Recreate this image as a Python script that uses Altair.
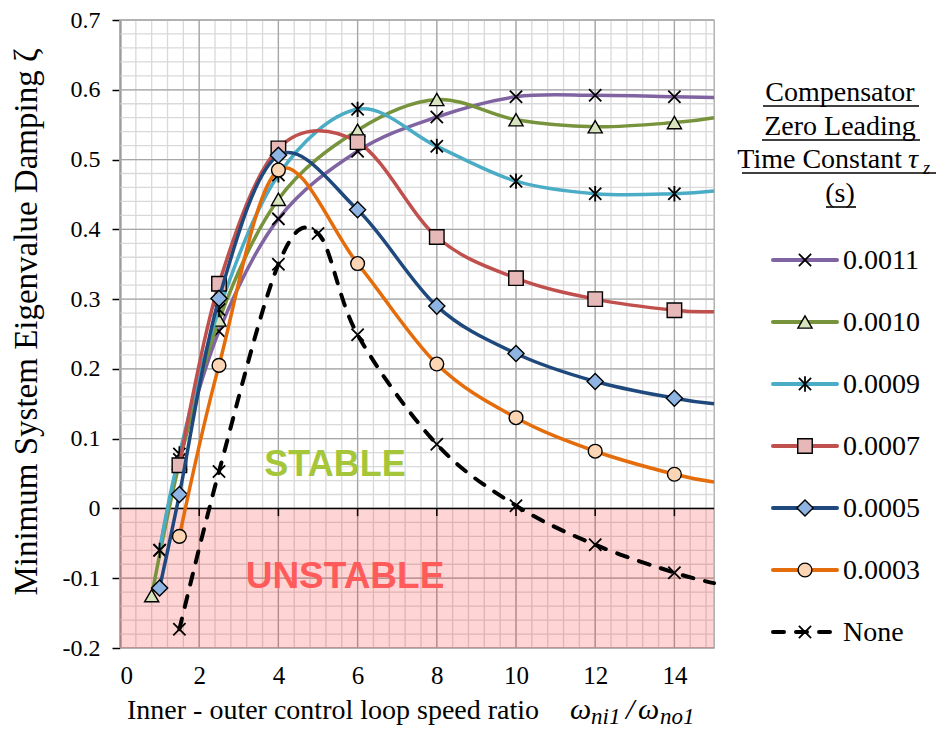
import altair as alt
import pandas as pd

# ---------------- data ----------------
series_names = ["0.0011", "0.0010", "0.0009", "0.0007", "0.0005", "0.0003", "None"]

x_0011 = [1.0, 1.5, 2.5, 4, 6, 8, 10, 12, 14, 15]
y_0011 = [-0.060, 0.070, 0.254, 0.415, 0.512, 0.561, 0.590, 0.592, 0.590, 0.589]
x_0010 = [0.8, 1.5, 2.5, 4, 6, 8, 10, 12, 14, 15]
y_0010 = [-0.125, 0.065, 0.270, 0.443, 0.542, 0.586, 0.557, 0.547, 0.553, 0.560]
x_0009 = [1.0, 1.5, 2.5, 4, 6, 8, 10, 12, 14, 15]
y_0009 = [-0.060, 0.078, 0.285, 0.478, 0.572, 0.519, 0.469, 0.451, 0.451, 0.455]
x_0007 = [1.5, 2.5, 4, 6, 8, 10, 12, 14, 15]
y_0007 = [0.062, 0.322, 0.516, 0.525, 0.389, 0.330, 0.300, 0.284, 0.282]
x_0005 = [1.0, 1.5, 2.5, 4, 6, 8, 10, 12, 14, 15]
y_0005 = [-0.114, 0.020, 0.301, 0.506, 0.428, 0.290, 0.222, 0.182, 0.158, 0.150]
x_0003 = [1.5, 2.5, 4, 6, 8, 10, 12, 14, 15]
y_0003 = [-0.040, 0.205, 0.485, 0.351, 0.207, 0.130, 0.082, 0.049, 0.038]
x_none = [1.5, 2.5, 4, 5, 6, 8, 10, 12, 14, 15]
y_none = [-0.173, 0.053, 0.350, 0.394, 0.249, 0.092, 0.004, -0.052, -0.092, -0.107]

x_tick_values = [0, 2, 4, 6, 8, 10, 12, 14]
y_tick_values = [-0.2, -0.1, 0.0, 0.1, 0.2, 0.3, 0.4, 0.5, 0.6, 0.7]
x_domain = [0, 15]
y_domain = [-0.2, 0.7]

# ---------------- styles ----------------
X_PATH = "M-1,-1L1,1M-1,1L1,-1"
STAR_PATH = "M-1,-1L1,1M-1,1L1,-1M0,-1.25L0,1.25"
styles = {
    "0.0011": dict(color="#8064A2", shape=X_PATH, fill="transparent", size=150, sw=1.8),
    "0.0010": dict(color="#77933C", shape="triangle-up", fill="#D7E4BD", size=200, sw=1.4),
    "0.0009": dict(color="#4BACC6", shape=STAR_PATH, fill="transparent", size=150, sw=1.8),
    "0.0007": dict(color="#C0504D", shape="square", fill="#E6B9B8", size=210, sw=1.4),
    "0.0005": dict(color="#1F497D", shape="diamond", fill="#8DB4E2", size=260, sw=1.4),
    "0.0003": dict(color="#E46C0A", shape="circle", fill="#FCD5B5", size=190, sw=1.4),
    "None": dict(color="#000000", shape=X_PATH, fill="transparent", size=150, sw=1.8),
}
series_data = {
    "0.0011": (x_0011, y_0011), "0.0010": (x_0010, y_0010), "0.0009": (x_0009, y_0009),
    "0.0007": (x_0007, y_0007), "0.0005": (x_0005, y_0005), "0.0003": (x_0003, y_0003),
    "None": (x_none, y_none),
}

SERIF = "Liberation Serif"
SANS = "Liberation Sans"
TOP = 20            # absolute y of the plot's top edge on the page
LEFT = 120          # absolute x of the plot's left edge on the page
W, H = 594, 648 - TOP


def px(a):
    return a - LEFT


def py(a):
    return a - TOP


xs = alt.Scale(domain=x_domain, nice=False, zero=False)
ys = alt.Scale(domain=y_domain, nice=False, zero=False)

X_main = alt.X(
    "x:Q", scale=xs,
    axis=alt.Axis(values=x_tick_values, grid=False, domain=False, ticks=False, tickSize=0,
                  labelFont=SERIF, labelFontSize=25, labelColor="black", labelPadding=15,
                  title=None),
)
Y_main = alt.Y(
    "y:Q", scale=ys,
    axis=alt.Axis(values=y_tick_values, grid=False, domain=True, domainColor="black",
                  domainWidth=1.5, ticks=True, tickColor="black", tickWidth=1.5, tickSize=8,
                  labelFont=SERIF, labelFontSize=24, labelColor="black", labelPadding=12,
                  labelExpr="datum.value == 0 ? '0' : (datum.value < 0 ? '-' : '') + format(abs(datum.value), '.1f')",
                  title=None),
)
X_plain = alt.X("x:Q", scale=xs)
Y_plain = alt.Y("y:Q", scale=ys)

layers = []

# grid lines (minor then major)
minor_x = [round(0.4 * k, 2) for k in range(0, 38)]
minor_y = [round(-0.2 + 0.02 * k, 3) for k in range(0, 46)]
layers.append(alt.Chart(pd.DataFrame({"x": minor_x})).mark_rule(color="#D9D9D9", strokeWidth=1.3)
              .encode(x=X_main))
layers.append(alt.Chart(pd.DataFrame({"y": minor_y})).mark_rule(color="#D9D9D9", strokeWidth=1.3)
              .encode(y=Y_main))
layers.append(alt.Chart(pd.DataFrame({"x": x_tick_values})).mark_rule(color="#A6A6A6", strokeWidth=1.3)
              .encode(x=X_plain))
layers.append(alt.Chart(pd.DataFrame({"y": y_tick_values})).mark_rule(color="#A6A6A6", strokeWidth=1.3)
              .encode(y=Y_plain))

# unstable region
layers.append(alt.Chart(pd.DataFrame({"x": [x_domain[0]], "x2": [x_domain[1]], "y": [y_domain[0]], "y2": [0.0]}))
              .mark_rect(color="#FF0000", opacity=0.17)
              .encode(x=X_plain, x2="x2:Q", y=Y_plain, y2="y2:Q"))

# zero line with ticks
layers.append(alt.Chart(pd.DataFrame({"y": [0.0]})).mark_rule(color="black", strokeWidth=1.5)
              .encode(y=Y_plain))
layers.append(alt.Chart(pd.DataFrame({"x": x_tick_values[1:], "y": [0.0] * 7, "y2": [-0.011] * 7}))
              .mark_rule(color="black", strokeWidth=1.5)
              .encode(x=X_plain, y=Y_plain, y2="y2:Q"))

# stable / unstable labels
layers.append(alt.Chart(pd.DataFrame({"t": ["STABLE"]})).mark_text(
    font=SANS, fontWeight="bold", fontSize=36, color="#A6C63A", align="center", baseline="alphabetic")
    .encode(x=alt.value(px(335)), y=alt.value(py(476)), text="t:N"))
layers.append(alt.Chart(pd.DataFrame({"t": ["UNSTABLE"]})).mark_text(
    font=SANS, fontWeight="bold", fontSize=37, color="#FF5B5B", align="center", baseline="alphabetic")
    .encode(x=alt.value(px(345)), y=alt.value(py(588)), text="t:N"))

# series
for s in series_names:
    xv, yv = series_data[s]
    st = styles[s]
    df = pd.DataFrame({"x": xv, "y": yv})
    if s == "None":
        line = alt.Chart(df).mark_line(interpolate="cardinal", color=st["color"], strokeWidth=4,
                                       strokeDash=[11, 12], strokeCap="round")
    else:
        line = alt.Chart(df).mark_line(interpolate="cardinal", color=st["color"], strokeWidth=3.5)
    layers.append(line.encode(x=X_plain, y=Y_plain))
    pts = df[df["x"] < x_domain[1]]
    layers.append(alt.Chart(pts).mark_point(shape=st["shape"], size=st["size"], fill=st["fill"],
                                            stroke="black", strokeWidth=st["sw"], opacity=1,
                                            fillOpacity=1)
                  .encode(x=X_plain, y=Y_plain))

# legend (pixel layout)
LX1, LX2, LM, LT = px(773), px(837), px(805), px(843)
for i, s in enumerate(series_names):
    st = styles[s]
    ly = py(260 + 62 * i)
    one = pd.DataFrame({"t": [s]})
    if s == "None":
        rule = alt.Chart(one).mark_rule(color="black", strokeWidth=4, strokeDash=[11, 12], strokeCap="round")
    else:
        rule = alt.Chart(one).mark_rule(color=st["color"], strokeWidth=4, strokeCap="round")
    layers.append(rule.encode(x=alt.value(LX1), x2=alt.value(LX2), y=alt.value(ly)))
    layers.append(alt.Chart(one).mark_point(shape=st["shape"], size=st["size"], fill=st["fill"],
                                            stroke="black", strokeWidth=st["sw"], opacity=1, fillOpacity=1)
                  .encode(x=alt.value(LM), y=alt.value(ly)))
    layers.append(alt.Chart(one).mark_text(font=SERIF, fontSize=28, color="black", align="left",
                                           baseline="middle")
                  .encode(x=alt.value(LT), y=alt.value(ly + 1), text="t:N"))

# legend title (underlined)
LC = px(840)
title_lines = [("Compensator", 101, 763, 919), ("Zero Leading", 135, 762, 920), (None, 168, 742, 938), ("(s)", 202, 826, 856)]
for txt, base, u1, u2 in title_lines:
    if txt is not None:
        layers.append(alt.Chart(pd.DataFrame({"t": [txt]})).mark_text(
            font=SERIF, fontSize=28, color="black", align="center", baseline="alphabetic")
            .encode(x=alt.value(LC), y=alt.value(py(base)), text="t:N"))
    layers.append(alt.Chart(pd.DataFrame({"t": [txt or ""]})).mark_rule(color="black", strokeWidth=1.6)
                  .encode(x=alt.value(px(u1)), x2=alt.value(px(u2)), y=alt.value(py(base + 5))))
layers.append(alt.Chart(pd.DataFrame({"t": ["Time Constant"]})).mark_text(
    font=SERIF, fontSize=28, color="black", align="right", baseline="alphabetic")
    .encode(x=alt.value(px(902)), y=alt.value(py(168)), text="t:N"))
layers.append(alt.Chart(pd.DataFrame({"t": ["\u03c4"]})).mark_text(
    font=SERIF, fontSize=28, color="black", align="left", baseline="alphabetic", fontStyle="italic")
    .encode(x=alt.value(px(908)), y=alt.value(py(168)), text="t:N"))
layers.append(alt.Chart(pd.DataFrame({"t": ["z"]})).mark_text(
    font=SERIF, fontSize=18, color="black", align="left", baseline="alphabetic", fontStyle="italic")
    .encode(x=alt.value(px(923)), y=alt.value(py(174)), text="t:N"))

# axis titles
layers.append(alt.Chart(pd.DataFrame({"t": ["Minimum System Eigenvalue Damping  \u03b6"]})).mark_text(
    font=SERIF, fontSize=33, color="black", align="center", baseline="middle", angle=270)
    .encode(x=alt.value(px(27)), y=alt.value(py(322)), text="t:N"))
layers.append(alt.Chart(pd.DataFrame({"t": ["Inner - outer control loop speed ratio"]})).mark_text(
    font=SERIF, fontSize=28, color="black", align="left", baseline="alphabetic")
    .encode(x=alt.value(px(127)), y=alt.value(py(719)), text="t:N"))
xt_parts = [("\u03c9", 570, 719, 30), ("ni1", 591, 724, 23), ("/", 626, 719, 30),
            ("\u03c9", 638, 719, 30), ("no1", 660, 724, 23)]
for t, ax, ay, fs in xt_parts:
    layers.append(alt.Chart(pd.DataFrame({"t": [t]})).mark_text(
        font=SERIF, fontSize=fs, color="black", align="left", baseline="alphabetic", fontStyle="italic")
        .encode(x=alt.value(px(ax)), y=alt.value(py(ay)), text="t:N"))

chart = alt.layer(*layers).properties(
    width=W, height=H,
    autosize=alt.AutoSizeParams(type="none"),
    padding={"left": LEFT - 8, "top": TOP - 8, "right": 222, "bottom": 81},
    background="white",
).configure_view(stroke="#A6A6A6", strokeWidth=1.3)

chart.save("out.html", embed_options={"renderer": "svg", "actions": False})
